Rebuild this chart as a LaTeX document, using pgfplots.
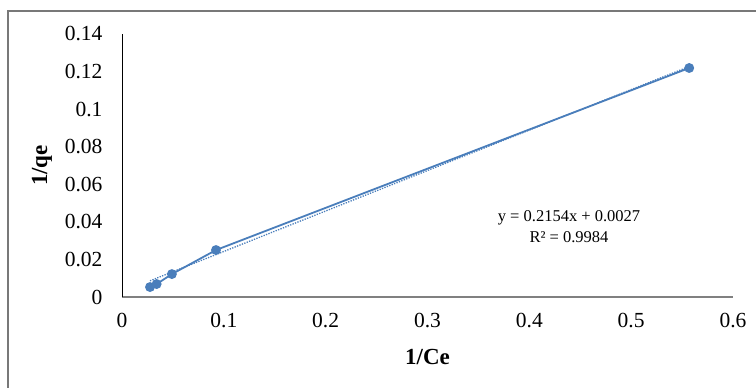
\documentclass[border=0pt]{standalone}
\usepackage{pgfplots}
\pgfplotsset{compat=1.18}
\usepackage{fontspec}
\setmainfont{Liberation Serif}
\definecolor{xlblue}{RGB}{74,126,187}
\definecolor{framegray}{RGB}{120,120,120}
\begin{document}
\begin{tikzpicture}[x=1pt,y=1pt]
\useasboundingbox (-122,-91) rectangle (634,297);
\draw[framegray,line width=2pt] (-114,-91) -- (-114,286) -- (634,286);
\begin{axis}[
  at={(0,0)}, anchor=origin,
  scale only axis, width=611pt, height=263pt,
  xmin=0, xmax=0.6, ymin=0, ymax=0.14,
  xtick={0,0.1,...,0.6}, ytick={0,0.02,...,0.14},
  xticklabels={0,0.1,0.2,0.3,0.4,0.5,0.6},
  yticklabels={0,0.02,0.04,0.06,0.08,0.1,0.12,0.14},
  axis x line*=bottom, axis y line*=left,
  x axis line style={draw=gray, line width=1.5pt, -},
  y axis line style={draw=black, line width=0.8pt, -},
  major tick length=0pt,
  tick label style={font=\fontsize{21.5}{23}\selectfont},
  xticklabel style={yshift=-13pt},
  yticklabel style={xshift=-16pt},
  xlabel={\textbf{1/Ce}}, ylabel={\textbf{1/qe}},
  xlabel style={font=\fontsize{23}{25}\selectfont, yshift=-14pt},
  ylabel style={font=\fontsize{23}{25}\selectfont, yshift=6pt},
  clip=false,
]
\addplot[xlblue, line width=1.8pt, mark=*, mark size=4pt, mark options={fill=xlblue,draw=xlblue}]
  coordinates {(0.0275,0.0053) (0.034,0.0069) (0.049,0.0122) (0.0923,0.025) (0.557,0.1219)};
\addplot[xlblue, line width=1.3pt, dash pattern=on 1.3pt off 1.3pt]
  coordinates {(0.0275,0.00862) (0.557,0.12268)};
\node[font=\fontsize{16.5}{21}\selectfont, align=center] at (axis cs:0.439,0.0373)
  {y = 0.2154x + 0.0027\\R² = 0.9984};
\end{axis}
\end{tikzpicture}
\end{document}
